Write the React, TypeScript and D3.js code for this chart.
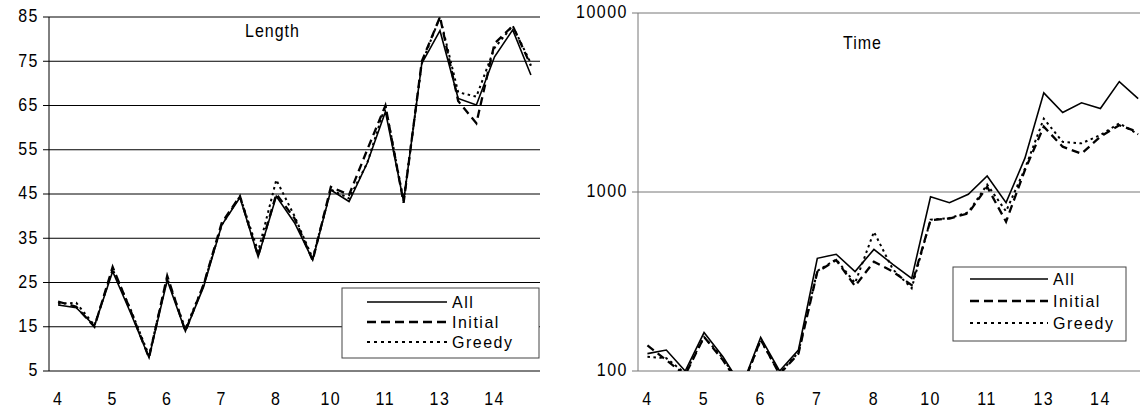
import React from "react";
import * as d3 from "d3";

const categories = ["4","4","4","5","5","5","6","6","6","7","7","7","8","8","8","10","10","10","11","11","11","13","13","13","14","14","14"];

const lengthAll = [19.9, 19.3, 15.2, 27.5, 18, 8, 25.5, 14, 24, 38, 44.2, 30.8, 44.5, 38.5, 30.1, 45.9, 43.3, 52, 63.6, 43.3, 74.5, 81.9, 66.6, 65.1, 76, 82.1, 71.9];
const lengthInitial = [20.7, 19.5, 15, 28.5, 18.5, 8, 26.5, 14, 24.5, 38.5, 44.5, 31, 45, 39.5, 30, 46.6, 44.8, 55, 65, 43, 75, 85, 66, 61, 79, 83, 74];
const lengthGreedy = [20.2, 20.4, 15.3, 28, 18.8, 8.5, 26, 14.5, 24.5, 38, 44.5, 32, 48.2, 40, 30.5, 46, 44, 52, 65, 43.5, 74.5, 85, 68, 67, 78, 83, 74.5];

const timeAll = [125, 131, 100, 164, 120, 82, 154, 100, 131, 426, 449, 359, 478, 394, 329, 941, 872, 971, 1228, 872, 1545, 3579, 2780, 3150, 2925, 4137, 3327];
const timeInitial = [139, 115, 95, 155, 115, 80, 150, 96, 125, 358, 417, 298, 408, 359, 302, 697, 711, 760, 1069, 682, 1327, 2318, 1791, 1637, 2040, 2360, 2161];
const timeGreedy = [120, 118, 97, 155, 118, 81, 148, 97, 127, 362, 420, 310, 599, 370, 290, 700, 715, 770, 1100, 780, 1350, 2568, 1906, 1870, 2080, 2420, 2100];

const lengthTicks = [5, 15, 25, 35, 45, 55, 65, 75, 85];
const timeTicks = [100, 1000, 10000];
const seriesNames = ["All", "Initial", "Greedy"];

const FONT = "'Liberation Sans', Arial, sans-serif";
const styles = [
  { w: 1.6, dash: "none" },
  { w: 2.3, dash: "8,5" },
  { w: 2, dash: "2.5,3.5" },
];

function T(props: { x: number; y: number; size: number; anchor?: string; ls?: number; mid?: boolean; sy?: number; children: any }) {
  return (
    <text transform={`translate(${props.x},${props.y}) scale(1,${props.sy ?? 1.15})`} x={0} y={0} dy={props.mid ? "0.35em" : undefined}
      textAnchor={props.anchor || "start"} fontFamily={FONT} fontSize={props.size} letterSpacing={props.ls ?? 1.5} fill="#000">
      {props.children}
    </text>
  );
}

type PanelProps = {
  id: string;
  x0: number; x1: number; yTop: number; yBot: number;
  y: any; ticks: number[]; series: number[][];
  gridColor: string; title: string; titleX: number; titleY: number;
  legend: { x: number; y: number; w: number; h: number; rows: number[]; lx0: number; lx1: number };
};

function Panel(p: PanelProps) {
  const x = d3.scaleBand<number>().domain(categories.map((_, i) => i)).range([p.x0, p.x1]).padding(0);
  const cx = (i: number) => (x(i) as number) + x.bandwidth() / 2;
  const line = d3.line<number>().x((_, i) => cx(i)).y((d) => p.y(d));
  return (
    <g>
      <defs>
        <clipPath id={p.id}>
          <rect x={p.x0} y={p.yTop - 2} width={p.x1 - p.x0} height={p.yBot - p.yTop + 2} />
        </clipPath>
      </defs>
      {p.ticks.map((t) => (
        <g key={t}>
          <line x1={p.x0 - 6} x2={p.x1} y1={p.y(t)} y2={p.y(t)} stroke={p.gridColor} strokeWidth={1} />
          <T x={p.x0 - 10} y={p.y(t) - 1} size={16} anchor="end" mid>{t}</T>
        </g>
      ))}
      <line x1={p.x0} x2={p.x0} y1={p.yTop} y2={p.yBot} stroke={p.gridColor} strokeWidth={1} />
      {categories.map((c, i) =>
        i % 3 === 0 ? (
          <T key={i} x={cx(i)} y={405} size={16} anchor="middle">{c}</T>
        ) : null
      )}
      <T x={p.titleX} y={p.titleY} size={16} ls={1}>{p.title}</T>
      <g clipPath={`url(#${p.id})`}>
        {p.series.map((s, k) => (
          <path key={k} d={line(s) as string} fill="none" stroke="#000" strokeWidth={styles[k].w}
            strokeDasharray={styles[k].dash} strokeLinejoin="miter" />
        ))}
      </g>
      <rect x={p.legend.x} y={p.legend.y} width={p.legend.w} height={p.legend.h} fill="#fff" stroke="#444" strokeWidth={1} />
      {seriesNames.map((n, k) => (
        <g key={n}>
          <line x1={p.legend.lx0} x2={p.legend.lx1} y1={p.legend.rows[k]} y2={p.legend.rows[k]} stroke="#000"
            strokeWidth={styles[k].w} strokeDasharray={k === 1 ? "9,5" : k === 2 ? "3,4" : "none"} />
          <T x={p.legend.lx1 + 5} y={p.legend.rows[k]} size={16} ls={1.5} sy={1.05} mid>{n}</T>
        </g>
      ))}
    </g>
  );
}

export default function App() {
  const yL = d3.scaleLinear().domain([5, 85]).range([371, 17]);
  const yR = d3.scaleLog().domain([100, 10000]).range([371, 13]);
  return (
    <svg width={1140} height={411} style={{ position: "absolute", left: 0, top: 0, background: "#fff" }}>
      <rect x={0} y={0} width={1140} height={411} fill="#fff" />
      <Panel id="clipL" x0={49} x1={540} yTop={17} yBot={371} y={yL} ticks={lengthTicks}
        series={[lengthAll, lengthInitial, lengthGreedy]} gridColor="#000" title="Length" titleX={245} titleY={37}
        legend={{ x: 342, y: 288, w: 197, h: 70, rows: [302, 322, 342], lx0: 367, lx1: 447 }} />
      <Panel id="clipR" x0={638} x1={1147.6} yTop={13} yBot={371} y={yR} ticks={timeTicks}
        series={[timeAll, timeInitial, timeGreedy]} gridColor="#777" title="Time" titleX={843} titleY={49}
        legend={{ x: 953, y: 267, w: 173, h: 74, rows: [279, 301, 323], lx0: 970, lx1: 1048 }} />
    </svg>
  );
}
